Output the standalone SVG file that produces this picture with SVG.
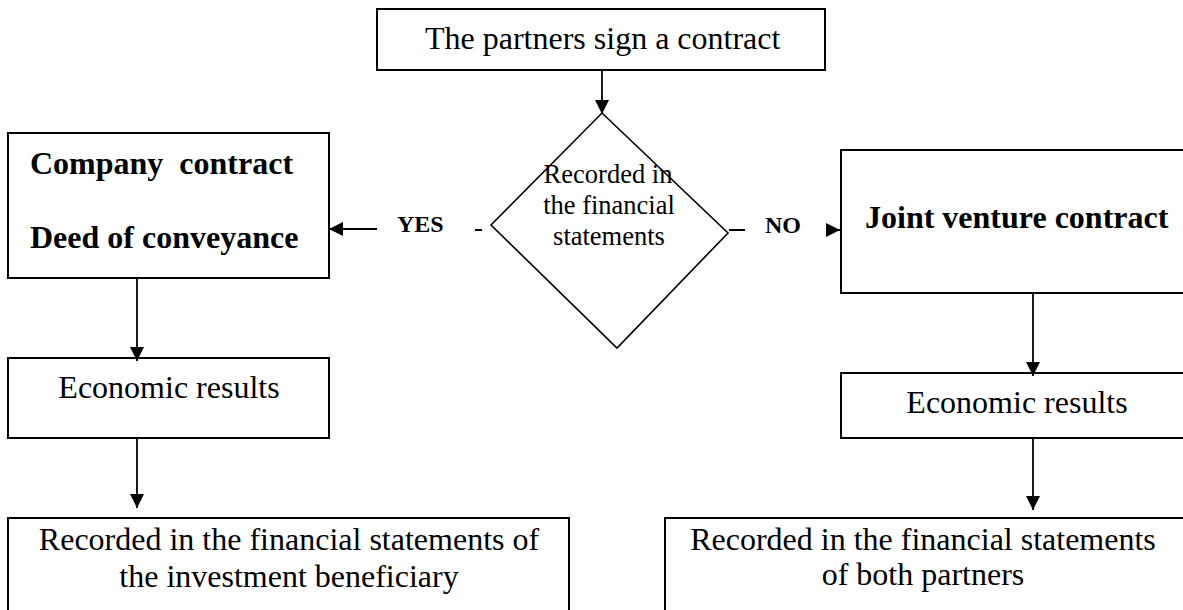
<svg xmlns="http://www.w3.org/2000/svg" width="1183" height="610" viewBox="0 0 1183 610">
<defs>
<style>
.box{fill:#fff;stroke:#000;stroke-width:2}
.dia{fill:#fff;stroke:#000;stroke-width:1.6}
.t{font-family:"Liberation Serif","Times New Roman",serif;font-size:32px;fill:#000}
.b{font-family:"Liberation Serif","Times New Roman",serif;font-size:32px;font-weight:bold;fill:#000}
.lbl{font-family:"Liberation Serif","Times New Roman",serif;font-size:24px;font-weight:bold;fill:#000}
.d{font-family:"Liberation Serif","Times New Roman",serif;font-size:26.5px;fill:#000}
.c{stroke:#000;stroke-width:1.8;fill:none}
.dash{stroke:#000;stroke-width:2}
</style>
<marker id="ah" markerUnits="userSpaceOnUse" markerWidth="14" markerHeight="14" refX="14" refY="7" orient="auto">
<path d="M0,0 L14,7 L0,14 z" fill="#000"/>
</marker>
</defs>
<g id="n-start">
<rect class="box" x="377" y="9" width="448" height="61"/>
<text class="t" x="425" y="49">The partners sign a contract</text>
</g>
<g id="n-decision">
<polygon class="dia" points="602,113 728,233 617,348 491,225"/>
<text class="d" x="608" y="183" text-anchor="middle">Recorded in</text>
<text class="d" x="609" y="214" text-anchor="middle">the financial</text>
<text class="d" x="609" y="245" text-anchor="middle">statements</text>
</g>
<g id="n-company">
<rect class="box" x="8" y="133" width="321" height="145"/>
<text class="b" x="30" y="174" xml:space="preserve">Company  contract</text>
<text class="b" x="30" y="248">Deed of conveyance</text>
</g>
<g id="n-joint">
<rect class="box" x="841" y="150" width="352" height="143"/>
<text class="b" x="865" y="228">Joint venture contract</text>
</g>
<g id="n-econ-left">
<rect class="box" x="8" y="358" width="321" height="80"/>
<text class="t" x="169" y="398" text-anchor="middle">Economic results</text>
</g>
<g id="n-econ-right">
<rect class="box" x="841" y="373" width="352" height="65"/>
<text class="t" x="1017" y="413" text-anchor="middle">Economic results</text>
</g>
<g id="n-rec-left">
<rect class="box" x="8" y="518" width="561" height="110"/>
<text class="t" x="289" y="550" text-anchor="middle">Recorded in the financial statements of</text>
<text class="t" x="289" y="587" text-anchor="middle">the investment beneficiary</text>
</g>
<g id="n-rec-right">
<rect class="box" x="665" y="518" width="530" height="110"/>
<text class="t" x="923" y="550" text-anchor="middle">Recorded in the financial statements</text>
<text class="t" x="923" y="585" text-anchor="middle">of both partners</text>
</g>
<g id="connectors">
<line class="c" x1="602" y1="70" x2="602" y2="114" marker-end="url(#ah)"/>
<line class="c" x1="377" y1="229" x2="329" y2="229" marker-end="url(#ah)"/>
<line class="dash" x1="475" y1="230" x2="482" y2="230"/>
<line class="dash" x1="729" y1="230" x2="745" y2="230"/>
<line class="c" x1="826" y1="230" x2="840" y2="230" marker-end="url(#ah)"/>
<line class="c" x1="137" y1="278" x2="137" y2="361" marker-end="url(#ah)"/>
<line class="c" x1="137" y1="438" x2="137" y2="508" marker-end="url(#ah)"/>
<line class="c" x1="1033" y1="293" x2="1033" y2="376" marker-end="url(#ah)"/>
<line class="c" x1="1033" y1="438" x2="1033" y2="510" marker-end="url(#ah)"/>
<text class="lbl" x="397" y="232">YES</text>
<text class="lbl" x="765" y="233">NO</text>
</g>
</svg>
